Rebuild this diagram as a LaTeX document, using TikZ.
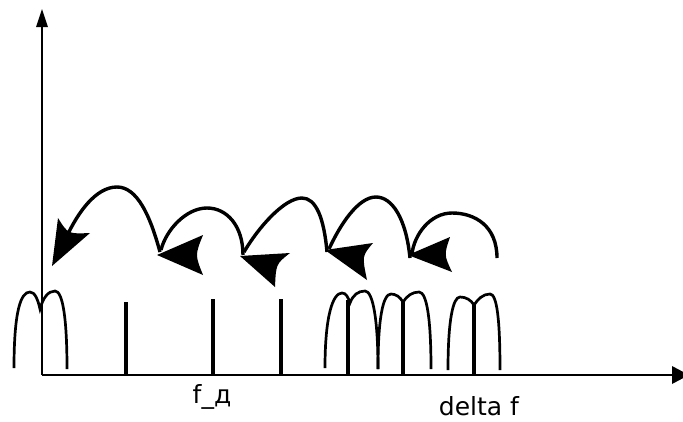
\documentclass[tikz,border=0pt]{standalone}
\usepackage{fontspec}
\setmainfont{DejaVu Sans}
\begin{document}
\begin{tikzpicture}[x=1pt,y=-1pt,
  axis/.style={line width=1.4pt},
  hump/.style={line width=2.7pt},
  bar/.style={line width=3.8pt},
  jump/.style={line width=3.4pt},
  head/.style={fill=black},
  lbl/.style={font=\fontsize{25}{30}\selectfont, inner sep=0pt}]
\useasboundingbox (0,0) rectangle (683,421);
\begin{scope}
\clip (0,0) rectangle (683,421);
% axes
\coordinate (O) at (42,375);
\coordinate (Ytop) at (42,24);
\coordinate (Xend) at (675,375);
\draw[axis] (O) -- (Ytop);
\draw[axis] (O) -- (Xend);
\fill (42,9) -- (36,27) -- (48,27) -- cycle;
\fill (689,375) -- (672,366) -- (672,384) -- cycle;
% humps
\draw[hump] (14,368) .. controls (14,310) and (21,292) .. (30,292)
  .. controls (35,292) and (38,300) .. (40,309)
  .. controls (43,298) and (48,291) .. (55,291)
  .. controls (63,291) and (67,320) .. (67,369);
\draw[hump] (325,368) .. controls (325,315) and (333,293) .. (342,293)
  .. controls (346,293) and (348,297) .. (350,303)
  .. controls (353,295) and (358,291) .. (365,291)
  .. controls (373,291) and (378,320) .. (378,369);
\draw[hump] (378,369) .. controls (378,318) and (383,294) .. (391,294)
  .. controls (396,294) and (400,297) .. (403,302)
  .. controls (407,296) and (412,292) .. (419,292)
  .. controls (427,292) and (431,320) .. (431,369);
\draw[hump] (448,370) .. controls (448,320) and (453,297) .. (460,297)
  .. controls (466,297) and (471,300) .. (474,305)
  .. controls (478,299) and (483,294) .. (490,294)
  .. controls (497,294) and (500,320) .. (500,370);
% bars
\foreach \x/\t in {126/302,213/299,281/299,348/300,403/300,474/303}
  \draw[bar] (\x,375) -- (\x,\t);
% curved jumps
\coordinate (P5) at (497,258);
\coordinate (P4) at (410,258);
\coordinate (P3) at (327,252);
\coordinate (P2) at (243,255);
\coordinate (P1) at (160,252);
\coordinate (P0) at (66,238);
\draw[jump] (P5) .. controls (497,226) and (475,213) .. (452,213)
  .. controls (430,213) and (414,235) .. (412,254);
\draw[jump] (P4) .. controls (406,218) and (392,197) .. (376,197)
  .. controls (358,197) and (340,225) .. (329,249);
\draw[jump] (P3) .. controls (324,218) and (316,198) .. (302,198)
  .. controls (284,198) and (258,228) .. (244,252);
\draw[jump] (P2) .. controls (243,226) and (227,208) .. (207,208)
  .. controls (186,208) and (166,230) .. (161,250);
\draw[jump] (P1) .. controls (150,215) and (137,187) .. (117,187)
  .. controls (96,187) and (78,212) .. (P0);
% arrow heads
\fill[head] (52,266) -- (58,218) .. controls (68,234) .. (90,233) -- cycle;
\fill[head] (157,255) -- (203,235) .. controls (195,255) .. (203,275) -- cycle;
\fill[head] (240,256) -- (290,253) .. controls (276,264) .. (275,287) -- cycle;
\fill[head] (325,250) -- (373,243) .. controls (362,256) .. (367,280) -- cycle;
\fill[head] (408,255) -- (450,237) .. controls (444,255) .. (452,272) -- cycle;
\end{scope}
% labels
\node[lbl] (fd) at (212,397) {f\_д};
\node[lbl] (df) at (479,406) {delta f};
\end{tikzpicture}
\end{document}
